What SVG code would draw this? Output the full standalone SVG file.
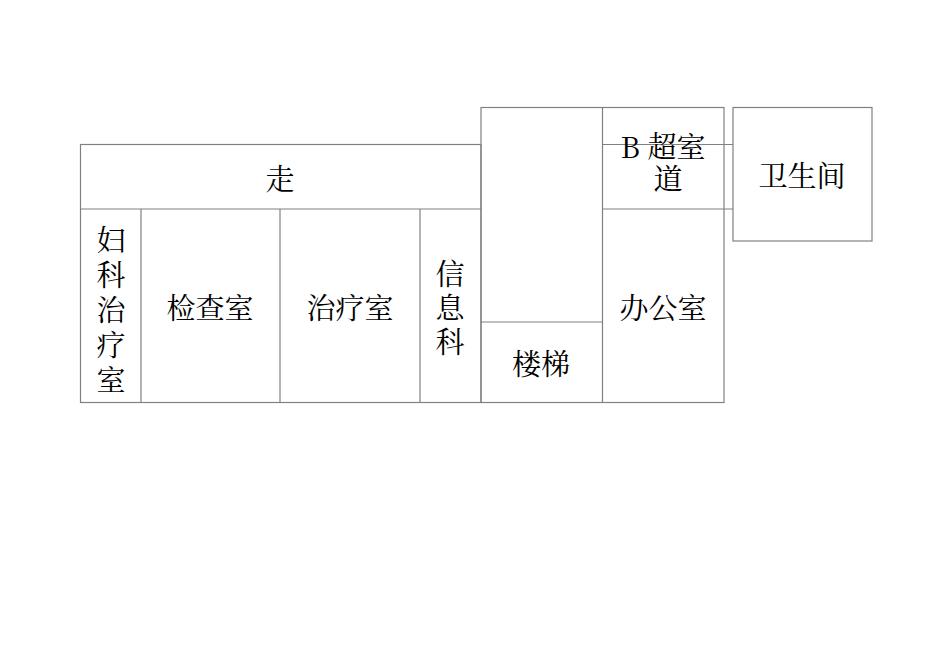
<svg xmlns="http://www.w3.org/2000/svg" width="950" height="672" viewBox="0 0 950 672">
<style>
.w{fill:none;stroke:#808080;stroke-width:1.2}
text{font-family:"Noto Serif CJK SC","Noto Sans CJK SC",sans-serif;font-size:29px;fill:#000;text-anchor:middle;dominant-baseline:central}
</style>
<rect width="950" height="672" fill="#fff"/>
<g id="walls">
<rect class="w" x="80.5" y="144.5" width="400.5" height="258"/>
<line class="w" x1="80.5" y1="209" x2="481" y2="209"/>
<line class="w" x1="141" y1="209" x2="141" y2="402.5"/>
<line class="w" x1="280" y1="209" x2="280" y2="402.5"/>
<line class="w" x1="420" y1="209" x2="420" y2="402.5"/>
<rect class="w" x="481" y="107.5" width="243" height="295"/>
<line class="w" x1="602.5" y1="107.5" x2="602.5" y2="402.5"/>
<line class="w" x1="481" y1="322" x2="602.5" y2="322"/>
<line class="w" x1="602.5" y1="144.5" x2="733" y2="144.5"/>
<line class="w" x1="602.5" y1="209" x2="733" y2="209"/>
<rect class="w" x="733" y="107.5" width="139" height="133.5"/>
</g>
<g id="corridor"><text x="280" y="177">走</text></g>
<g id="fuke"><text x="111" y="238">妇</text><text x="111" y="273">科</text><text x="111" y="308">治</text><text x="111" y="343">疗</text><text x="111" y="378">室</text></g>
<g id="jiancha"><text x="210" y="306">检查室</text></g>
<g id="zhiliao"><text x="350" y="306">治疗室</text></g>
<g id="xinxi"><text x="450" y="272">信</text><text x="450" y="306">息</text><text x="450" y="340">科</text></g>
<g id="louti"><text x="541" y="362">楼梯</text></g>
<g id="bangong"><text x="663" y="306">办公室</text></g>
<g id="bchao"><text x="663" y="145">B 超室</text><text x="668" y="177">道</text></g>
<g id="weisheng"><text x="802" y="174">卫生间</text></g>
</svg>
